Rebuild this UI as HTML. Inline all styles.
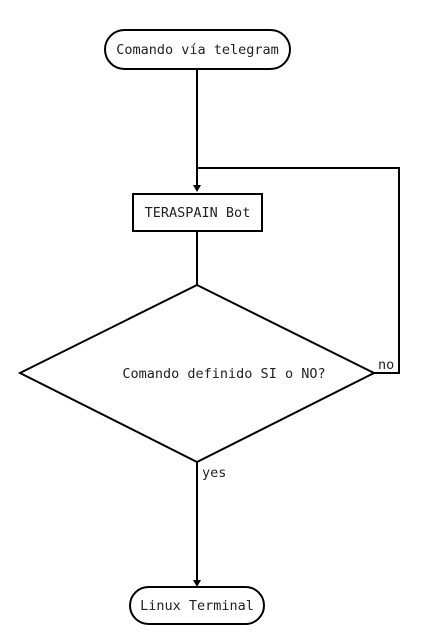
<!DOCTYPE html>
<html><head><meta charset="utf-8"><style>
html,body{margin:0;padding:0;background:#fff;}
svg{display:block}
text{font-family:"DejaVu Sans Mono","Liberation Mono",monospace;font-size:13.5px;fill:#222}
</style></head><body>
<svg width="448" height="641" viewBox="0 0 448 641" xmlns="http://www.w3.org/2000/svg">
<g stroke="#000" stroke-width="2" fill="none">
<rect x="105" y="30" width="185" height="39" rx="19.5" fill="#fff"/>
<line x1="197" y1="69" x2="197" y2="185"/>
<path d="M372,373 H399 V168 H197"/>
<path d="M193,185 L201,185 L197,192 z" fill="#000" stroke="none"/>
<rect x="133" y="194" width="129" height="37" fill="#fff"/>
<line x1="197" y1="231" x2="197" y2="285"/>
<polygon points="197,285 374,373 197,462 20,373" fill="#fff"/>
<line x1="197" y1="462" x2="197" y2="580"/>
<path d="M193,580 L201,580 L197,587 z" fill="#000" stroke="none"/>
<rect x="130" y="587" width="134" height="37" rx="18.5" fill="#fff"/>
</g>
<text x="197.5" y="54" text-anchor="middle">Comando vía telegram</text>
<text x="197.5" y="217" text-anchor="middle">TERASPAIN Bot</text>
<text x="224" y="378" text-anchor="middle">Comando definido SI o NO?</text>
<text x="378" y="369">no</text>
<text x="202" y="477">yes</text>
<text x="197" y="610" text-anchor="middle">Linux Terminal</text>
</svg>
</body></html>
